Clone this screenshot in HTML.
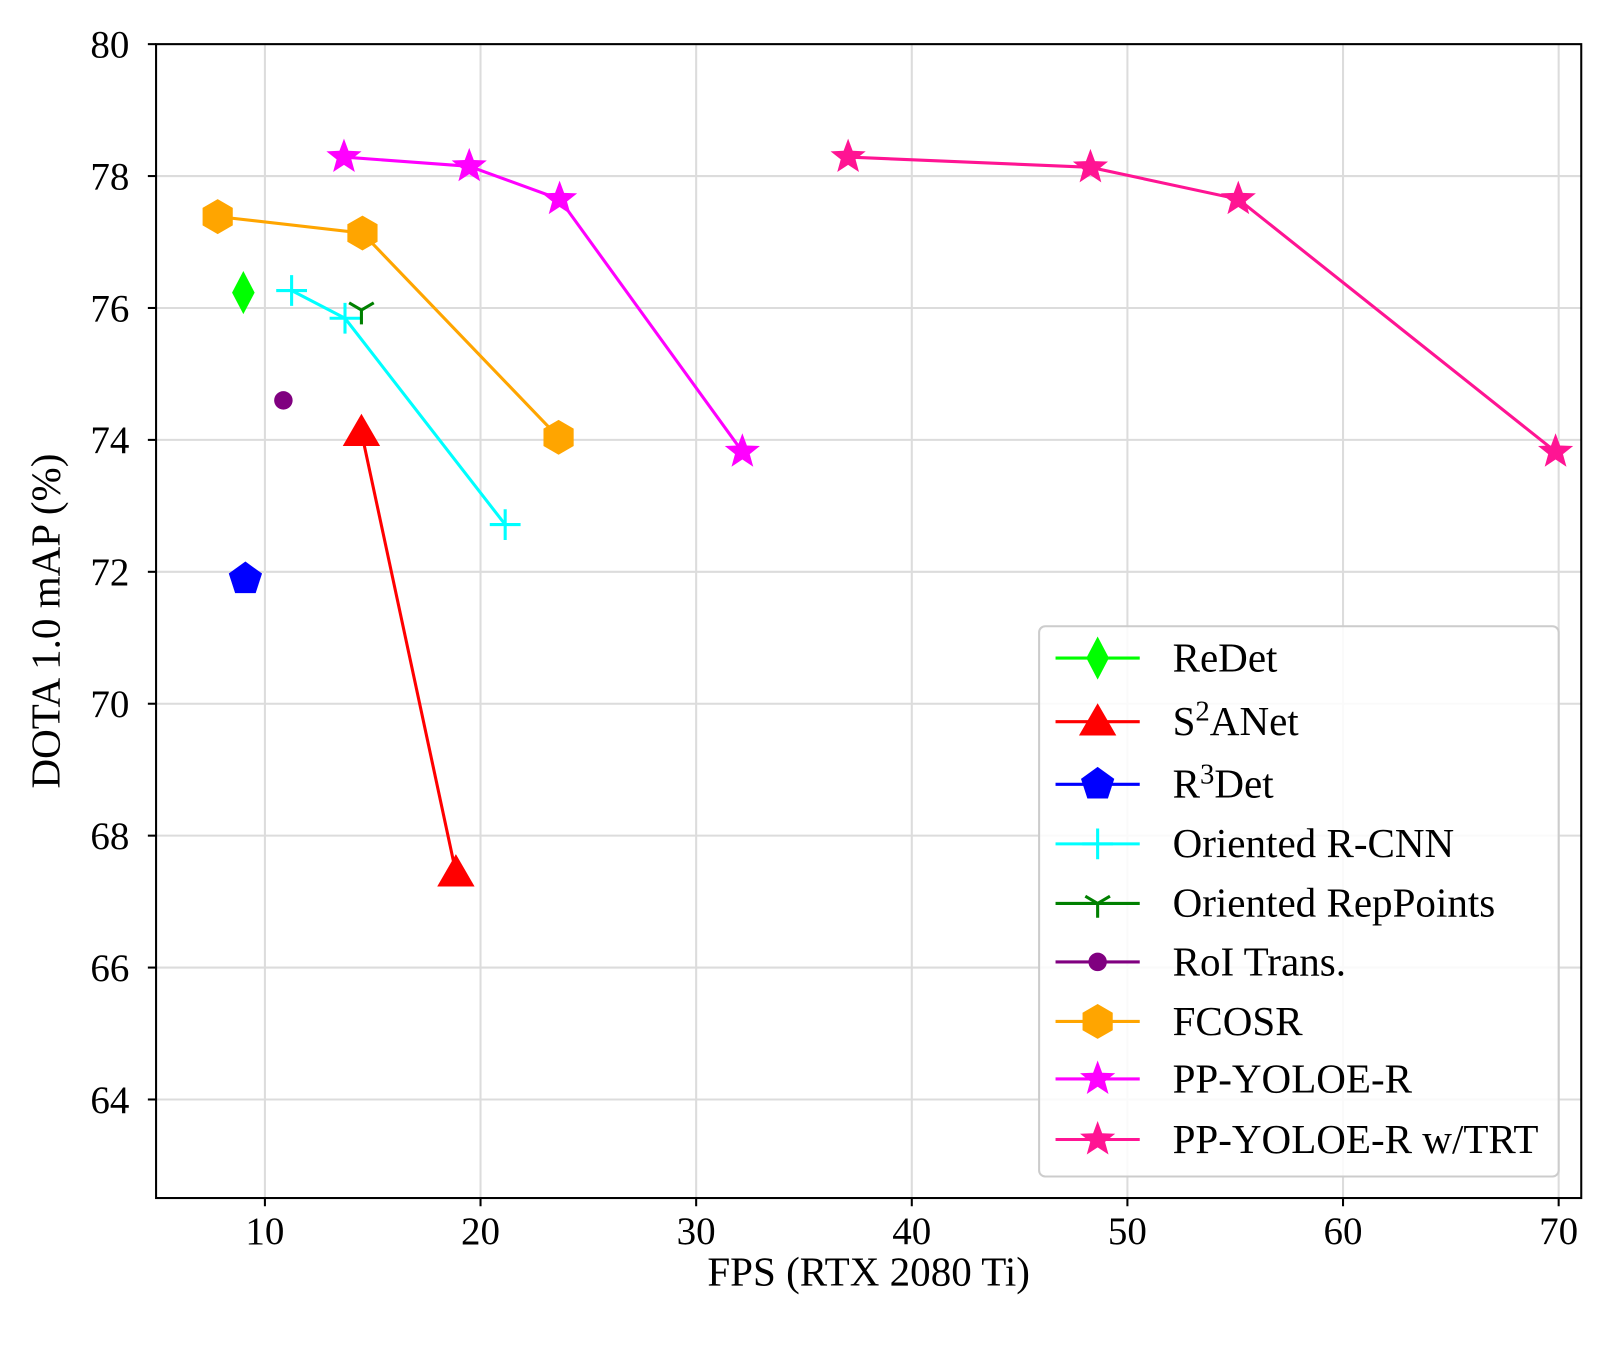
<!DOCTYPE html>
<html><head><meta charset="utf-8"><style>body{margin:0;background:#fff}svg{display:block}text{font-family:"Liberation Serif",serif;fill:#000}</style></head>
<body>
<svg id="s" width="1610" height="1351" viewBox="0 0 1568 1316" preserveAspectRatio="none" xmlns="http://www.w3.org/2000/svg">
<rect width="1568" height="1316" fill="#fff"/>
<g id="grid" stroke="#dcdcdc" stroke-width="2"></g>
<g id="series"></g>
<rect x="152" y="43" width="1388" height="1124" fill="none" stroke="#000" stroke-width="2"/>
<g id="ticks"></g>
<text x="846" y="1252" font-size="40" text-anchor="middle">FPS (RTX 2080 Ti)</text>
<text transform="translate(58,605) rotate(-90)" font-size="40" text-anchor="middle">DOTA 1.0 mAP (%)</text>
<rect x="1012" y="610" width="506" height="536" rx="6" fill="#fff" fill-opacity="0.85" stroke="#ccc" stroke-width="2"/>
<g id="legend"></g>
</svg>
<script>
const NS="http://www.w3.org/2000/svg";
function el(p,t,a,txt){const e=document.createElementNS(NS,t);for(const k in a)e.setAttribute(k,a[k]);if(txt!==undefined)e.textContent=txt;document.getElementById(p).appendChild(e);return e;}
const X=v=>258+(v-10)*21, Y=v=>43+(80-v)*64.25;
for(let v=10;v<=70;v+=10){el('grid','line',{x1:X(v),x2:X(v),y1:43,y2:1167});el('ticks','line',{x1:X(v),x2:X(v),y1:1167,y2:1175,stroke:'#000','stroke-width':2});el('ticks','text',{x:X(v),y:1212,'font-size':38,'text-anchor':'middle'},v);}
for(let v=64;v<=80;v+=2){el('grid','line',{x1:152,x2:1540,y1:Y(v),y2:Y(v)});el('ticks','line',{x1:144,x2:152,y1:Y(v),y2:Y(v),stroke:'#000','stroke-width':2});el('ticks','text',{x:126,y:Y(v)+13,'font-size':38,'text-anchor':'end'},v);}
function poly(n,r,rot,inner){let p=[];const m=inner?2*n:n;for(let i=0;i<m;i++){const a=rot+i*Math.PI*2/m;const rr=inner&&i%2?r*inner:r;p.push((rr*Math.sin(a)).toFixed(1)+','+(-rr*Math.cos(a)).toFixed(1));}return p.join(' ');}
function marker(g,type,x,y,c){
 const t=`translate(${x},${y})`;
 if(type=='D')el(g,'polygon',{points:'0,-21 11,0 0,21 -11,0',fill:c,transform:t});
 else if(type=='^')el(g,'polygon',{points:poly(3,21,0),fill:c,transform:`translate(${x},${y+3})`});
 else if(type=='p')el(g,'polygon',{points:poly(5,17,0),fill:c,transform:t});
 else if(type=='h')el(g,'polygon',{points:poly(6,17,0),fill:c,transform:t});
 else if(type=='*')el(g,'polygon',{points:poly(5,18,0,0.42),fill:c,transform:t});
 else if(type=='o')el(g,'circle',{cx:x,cy:y,r:9,fill:c});
 else if(type=='+'){el(g,'path',{d:`M${x-15},${y}H${x+15}M${x},${y-15}V${y+15}`,stroke:c,'stroke-width':3});}
 else if(type=='1'){el(g,'path',{d:`M${x},${y}V${y+14}M${x},${y}L${x-12},${y-7}M${x},${y}L${x+12},${y-7}`,stroke:c,'stroke-width':3});}
}
const S=[
['ReDet','#00ff00','D',[[237,285]]],
['S²ANet','#ff0000','^',[[352,421],[444,850]]],
['R³Det','#0000ff','p',[[239,564]]],
['Oriented R-CNN','#00ffff','+',[[284,283],[336,310],[492,511]]],
['Oriented RepPoints','#008000','1',[[352,302]]],
['RoI Trans.','#800080','o',[[276,390]]],
['FCOSR','#ffa500','h',[[212,211],[353,227],[544,426]]],
['PP-YOLOE-R','#ff00ff','*',[[335,153],[457,162],[545,194],[723,440]]],
['PP-YOLOE-R w/TRT','#ff1493','*',[[826,153],[1062,163],[1206,194],[1515,440]]]];
const LY=[641,703,764,822,880,937,995,1051,1110];
S.forEach((s,i)=>{
 if(s[3].length>1)el('series','polyline',{points:s[3].map(p=>p.join(',')).join(' '),fill:'none',stroke:s[1],'stroke-width':3});
 s[3].forEach(p=>marker('series',s[2],p[0],p[1],s[1]));
 const y=LY[i];
 el('legend','line',{x1:1028,x2:1110,y1:y,y2:y,stroke:s[1],'stroke-width':3});
 marker('legend',s[2],1069,y,s[1]);
 const tx=el('legend','text',{x:1142,y:y+13,'font-size':40});
 if(i==1||i==2){const b=i==1?'S':'R',r=i==1?'ANet':'Det',sup=i==1?'2':'3';
  tx.appendChild(document.createTextNode(b));const ts=document.createElementNS(NS,'tspan');ts.setAttribute('dy','-14');ts.setAttribute('font-size','28');ts.textContent=sup;tx.appendChild(ts);const t2=document.createElementNS(NS,'tspan');t2.setAttribute('dy','14');t2.textContent=r;tx.appendChild(t2);}
 else tx.textContent=s[0];
});
</script>
</body></html>
